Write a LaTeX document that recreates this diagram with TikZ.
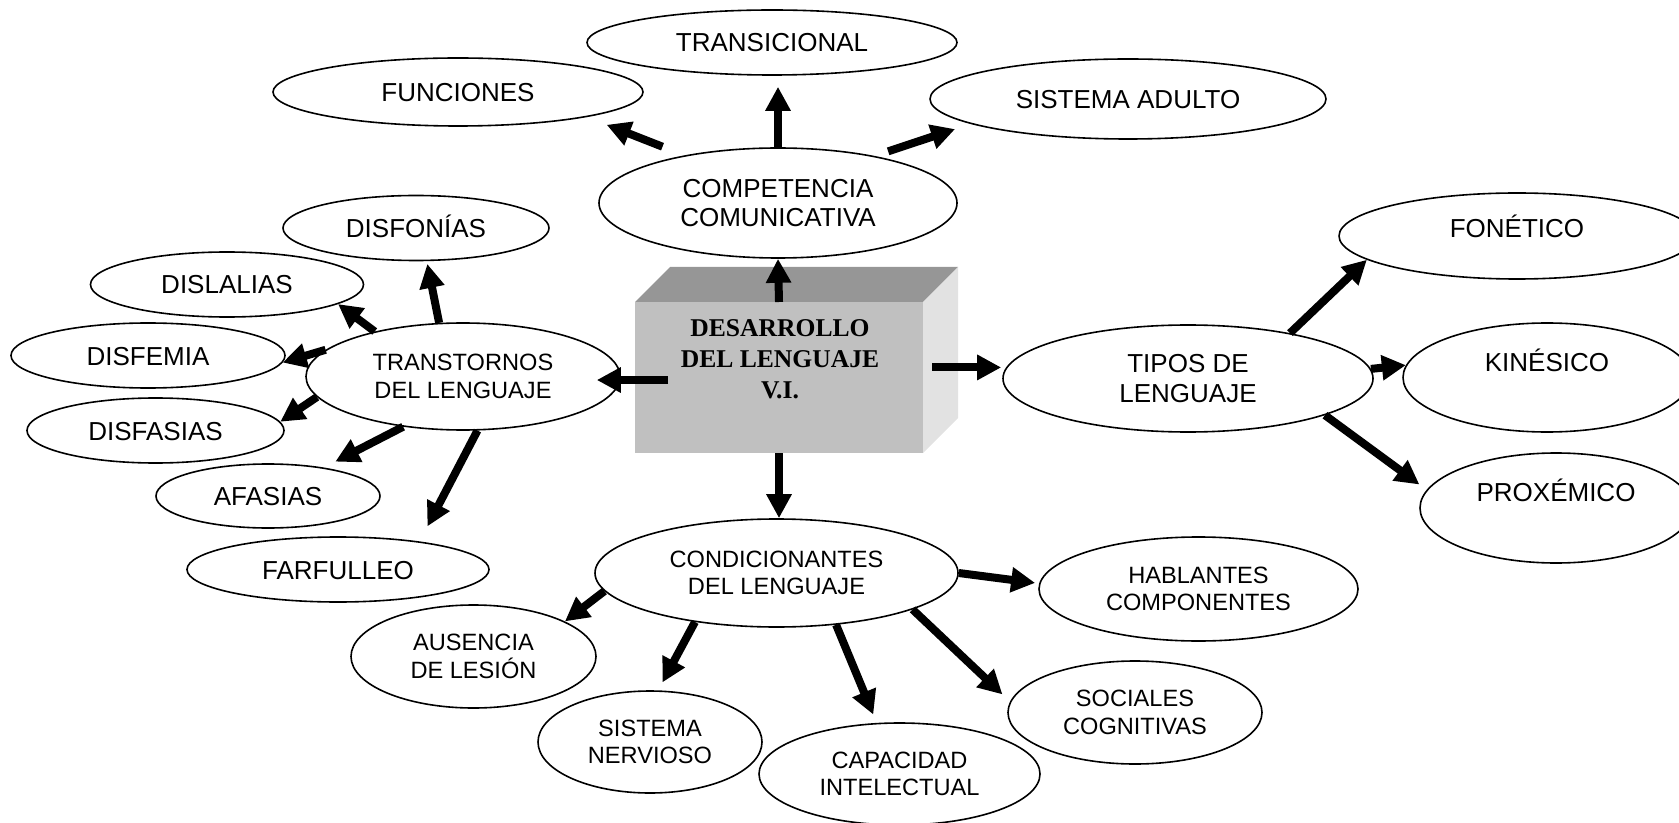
\documentclass[tikz,border=0pt]{standalone}
\usepackage{fontspec}
\setmainfont{Liberation Sans}
\newfontfamily\tnr{Liberation Serif}
\usetikzlibrary{arrows.meta}
\usetikzlibrary{shapes.geometric}
\definecolor{cubofrente}{RGB}{192,192,192}
\definecolor{cubotapa}{RGB}{150,150,150}
\definecolor{cubolado}{RGB}{226,226,226}

\begin{document}
\begin{tikzpicture}[x=0.5pt, y=-0.5pt,
  elip/.style={draw, ellipse, line width=0.8pt, inner sep=0pt, align=center, font=\fontsize{13}{14.8}\selectfont},
  uno/.style={elip, text height=9.5pt, text depth=0pt},
  dos/.style={elip, font=\fontsize{11.8}{13.7}\selectfont},
  cubo/.style={rectangle, fill=cubofrente, inner sep=0pt, outer sep=0pt, minimum width=144pt, minimum height=75.5pt},
  titulo/.style={align=center, font=\fontsize{12.8}{15.5}\tnr\bfseries},
  flecha/.style={line width=4pt, -{Triangle[width=12pt,length=12pt]}}]
  \useasboundingbox (0,0) rectangle (1679,823);

  % bloque central
  \node[cubo] (desarrollo) at (779,377.5) {};
  \fill[cubotapa] (desarrollo.north west) -- ++(35,-35) -- ++(288,0) -- (desarrollo.north east) -- cycle;
  \fill[cubolado] (desarrollo.north east) -- ++(35,-35) -- ++(0,151) -- (desarrollo.south east) -- cycle;
  \node[titulo] (titulo) at (780,359.5) {DESARROLLO\\DEL LENGUAJE\\V.I.};

  \node[elip, minimum width=179pt, minimum height=55pt] (competencia) at (778,203) {COMPETENCIA\\COMUNICATIVA};
  \node[uno, minimum width=185pt, minimum height=32.5pt] (transicional) at (772,42.5) {TRANSICIONAL};
  \node[uno, minimum width=185pt, minimum height=34pt] (funciones) at (458,92) {FUNCIONES};
  \node[uno, minimum width=198pt, minimum height=40pt] (sisadulto) at (1128,99) {SISTEMA ADULTO};

  \node[dos, minimum width=157pt, minimum height=53.5pt] (transtornos) at (463,376.5) {TRANSTORNOS\\DEL LENGUAJE};
  \node[uno, minimum width=133pt, minimum height=32.5pt] (disfonias) at (416,228) {DISFONÍAS};
  \node[uno, minimum width=136.5pt, minimum height=32.5pt] (dislalias) at (227,284.5) {DISLALIAS};
  \node[uno, minimum width=137pt, minimum height=32.5pt] (disfemia) at (148,355.5) {DISFEMIA};
  \node[uno, minimum width=128.5pt, minimum height=32.5pt] (disfasias) at (155.5,430.5) {DISFASIAS};
  \node[uno, minimum width=112pt, minimum height=32pt] (afasias) at (268,496) {AFASIAS};
  \node[uno, minimum width=151pt, minimum height=32.5pt] (farfulleo) at (338,569.5) {FARFULLEO};

  \node[elip, minimum width=185pt, minimum height=53.5pt] (tipos) at (1188,378.5) {TIPOS DE\\LENGUAJE};
  \node[uno, text depth=8.2pt, minimum width=178pt, minimum height=43pt] (fonetico) at (1517,236) {FONÉTICO};
  \node[uno, text depth=15.2pt, minimum width=144pt, minimum height=54.5pt] (kinesico) at (1547,377.5) {KINÉSICO};
  \node[uno, text depth=16.2pt, minimum width=136pt, minimum height=55pt] (proxemico) at (1556,508) {PROXÉMICO};

  \node[dos, minimum width=181.5pt, minimum height=54pt] (condicionantes) at (776.5,573) {CONDICIONANTES\\DEL LENGUAJE};
  \node[dos, minimum width=159.5pt, minimum height=52pt] (hablantes) at (1198.5,589) {HABLANTES\\COMPONENTES};
  \node[dos, minimum width=122.5pt, minimum height=51.5pt] (ausencia) at (473.5,656.5) {AUSENCIA\\DE LESIÓN};
  \node[dos, minimum width=112pt, minimum height=51pt] (nervioso) at (650,742) {SISTEMA\\NERVIOSO};
  \node[dos, minimum width=140.5pt, minimum height=51pt] (capacidad) at (899.5,774) {CAPACIDAD\\INTELECTUAL};
  \node[dos, minimum width=127pt, minimum height=51.5pt] (sociales) at (1135,712.5) {SOCIALES\\COGNITIVAS};

  \draw[flecha] (desarrollo.north) -- (competencia.south);
  \draw[flecha, shorten <=-16.5pt, shorten >=-12pt] (desarrollo.181.8) -- (desarrollo.181.8 -| transtornos.east);
  \draw[flecha, shorten <=4.5pt, shorten >=0.5pt] (desarrollo.4.2) -- (desarrollo.4.2 -| tipos.west);
  \draw[flecha] (desarrollo.south) -- (desarrollo.south |- condicionantes.north);

  \draw[flecha, shorten >=5.5pt] (competencia.north) -- (competencia.north |- transicional.south);
  \draw[flecha, shorten <=11.8pt, shorten >=10.6pt] (competencia.153.8) -- (funciones.-11.8);
  \draw[flecha, shorten <=7.2pt, shorten >=8.2pt] (competencia.26.1) -- (sisadulto.-171.1);

  \draw[flecha, shorten >=1.4pt] (transtornos.114.2) -- (disfonias.-72.6);
  \draw[flecha] (transtornos.153.7) -- (dislalias.-10.7);
  \draw[flecha] (transtornos.169.9) -- (disfemia.-3.3);
  \draw[flecha] (transtornos.188.4) -- (disfasias.4.9);
  \draw[flecha, shorten >=6.4pt] (transtornos.-140.7) -- (afasias.27.6);
  \draw[flecha, shorten >=8.5pt] (transtornos.-75.1) -- (farfulleo.19.1);

  \draw[flecha] (tipos.24.9) -- (fonetico.189.3);
  \draw[flecha] (tipos.3.7) -- (kinesico.175.8);
  \draw[flecha, shorten >=4.5pt] (tipos.-15.7) -- (proxemico.172.1);

  \draw[flecha, shorten >=2pt] (condicionantes.-0.6) -- (hablantes.178.6);
  \draw[flecha] (condicionantes.186.8) -- (ausencia.21.3);
  \draw[flecha, shorten >=4.5pt] (condicionantes.-149.9) -- (nervioso.81.1);
  \draw[flecha, shorten >=4.5pt] (condicionantes.-41.2) -- (capacidad.114.5);
  \draw[flecha, shorten >=5.2pt] (condicionantes.-15.3) -- (sociales.175.2);
\end{tikzpicture}
\end{document}
